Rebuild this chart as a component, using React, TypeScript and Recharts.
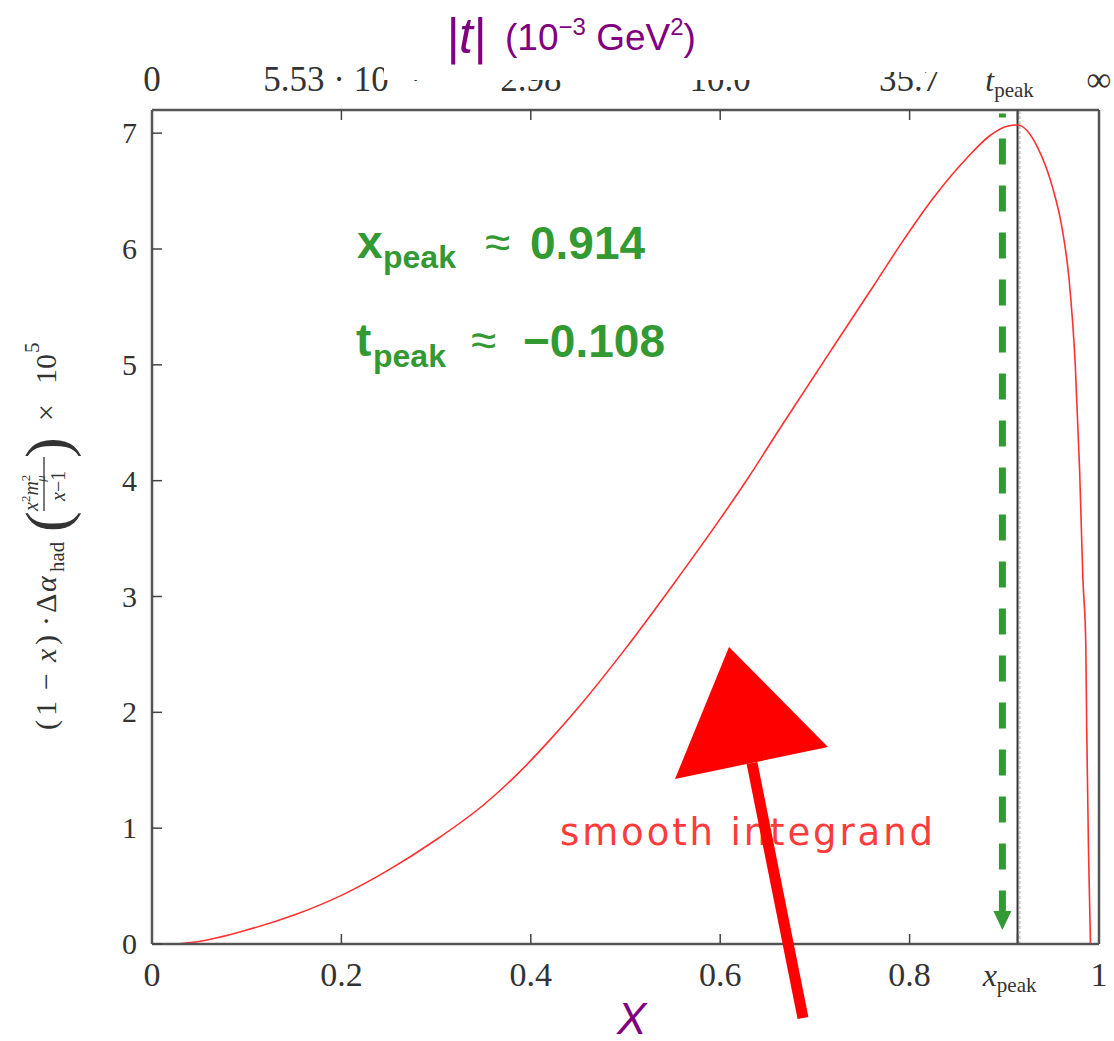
import React from "react";
import {
  LineChart,
  Line,
  XAxis,
  YAxis,
  ReferenceLine,
  ReferenceDot,
} from "recharts";

// integrand (x, value x 10^5)
const xValues = [
  0.024, 0.048, 0.1, 0.15, 0.2, 0.25, 0.3, 0.35, 0.385, 0.42, 0.45, 0.5, 0.55,
  0.6, 0.63, 0.663, 0.719, 0.761, 0.793, 0.825, 0.861, 0.885, 0.903, 0.914,
  0.935, 0.951, 0.961, 0.9685, 0.975, 0.9795, 0.983, 0.986, 0.987, 0.989,
  0.991,
];
const yValues = [
  0, 0.02, 0.12, 0.25, 0.42, 0.64, 0.9, 1.2, 1.46, 1.76, 2.04, 2.55, 3.1, 3.67,
  4.03, 4.45, 5.15, 5.67, 6.07, 6.44, 6.79, 6.98, 7.06, 7.07, 6.88, 6.53, 6.18,
  5.73, 4.99, 4.1, 3.15, 2.61, 1.86, 0.77, 0,
];

const xTicks = [0, 0.2, 0.4, 0.6, 0.8, 0.914, 1];
const xTickLabels = ["0", "0.2", "0.4", "0.6", "0.8", "x_peak", "1"];
const tTickLabels = ["0", "5.53 · 10⁻⁴", "2.98", "10.0", "35.7", "t_peak", "∞"];
const yTicks = [0, 1, 2, 3, 4, 5, 6, 7];

const X_PEAK = 0.914;
const ARROW_X = 0.898;

const data = xValues.map((x, i) => ({ x, y: yValues[i] }));

const SERIF = "'Liberation Serif', 'DejaVu Serif', serif";
const SANS = "'Liberation Sans', Arial, sans-serif";
const GREEN = "#339933";
const PURPLE = "#800080";
const AXIS = "#555";

function BottomTick(props: any) {
  const { x, y, payload } = props;
  const label = xTickLabels[xTicks.indexOf(payload.value)];
  if (label === "x_peak") {
    return (
      <text x={x - 8} y={y + 26} textAnchor="middle" fontFamily={SERIF} fontSize={32} fill="#333">
        <tspan fontStyle="italic">x</tspan>
        <tspan fontSize={21} dy={6}>peak</tspan>
      </text>
    );
  }
  return (
    <text x={x} y={y + 26} textAnchor="middle" fontFamily={SERIF} fontSize={34} fill="#333">
      {label}
    </text>
  );
}

function TopTick(props: any) {
  const { x, y, payload } = props;
  const label = tTickLabels[xTicks.indexOf(payload.value)];
  if (label === "t_peak") {
    return (
      <text x={x - 8} y={y} textAnchor="middle" fontFamily={SERIF} fontSize={32} fill="#333">
        <tspan fontStyle="italic">t</tspan>
        <tspan fontSize={21} dy={6}>peak</tspan>
      </text>
    );
  }
  return (
    <text x={x} y={y} textAnchor="middle" fontFamily={SERIF} fontSize={35} fill="#333">
      {label}
    </text>
  );
}

function LeftTick(props: any) {
  const { x, y, payload } = props;
  return (
    <text x={x} y={y + 10} textAnchor="end" fontFamily={SERIF} fontSize={30} fill="#333">
      {payload.value}
    </text>
  );
}

function ArrowHead(props: any) {
  const { cx, cy } = props;
  return (
    <path d={`M${cx - 9},${cy - 19} L${cx + 9},${cy - 19} L${cx},${cy} Z`} fill={GREEN} />
  );
}

function Annotations() {
  return (
    <svg
      width={1114}
      height={1041}
      style={{ position: "absolute", left: 0, top: 0, pointerEvents: "none" }}
    >
      {/* white patch under the |t| title */}
      <rect x={384} y={0} width={476} height={80} fill="#fff" />
      <rect x={860} y={0} width={80} height={72} fill="#fff" />
      <text x={446} y={53} fontFamily={SANS} fontSize={50} fontStyle="italic" fill={PURPLE}>
        |t|
      </text>
      <text x={505} y={50} fontFamily={SANS} fontSize={37} fill={PURPLE}>
        (10<tspan dy={-15} fontSize={24}>−3</tspan>
        <tspan dy={15}> GeV</tspan>
        <tspan dy={-15} fontSize={24}>2</tspan>
        <tspan dy={15}>)</tspan>
      </text>

      {/* y axis title, laid along the axis */}
      <g transform="translate(56,730) rotate(-90)" fontFamily={SERIF} fill="#333" fontSize={30}>
        <text x={0} y={0}>(</text>
        <text x={14} y={0}>1</text>
        <text x={40} y={0}>−</text>
        <text x={68} y={0} fontStyle="italic">x</text>
        <text x={85} y={0}>)</text>
        <text x={104} y={0}>·</text>
        <text x={117} y={0}>Δ</text>
        <text x={138} y={0} fontStyle="italic">α</text>
        <text x={158} y={8} fontSize={21}>had</text>
        <text x={198} y={12} fontSize={62}>(</text>
        <text x={219} y={-18} fontSize={20} fontStyle="italic">
          x<tspan dy={-8} fontSize={13} fontStyle="normal">2</tspan>
          <tspan dy={8}>m</tspan>
          <tspan dy={-8} fontSize={13} fontStyle="normal">2</tspan>
          <tspan dx={-7} dy={15} fontSize={13}>μ</tspan>
        </text>
        <line x1={219} x2={273} y1={-12} y2={-12} stroke="#333" strokeWidth={1.3} />
        <text x={229} y={9} fontSize={20}>
          <tspan fontStyle="italic">x</tspan>−1
        </text>
        <text x={272} y={12} fontSize={62}>)</text>
        <text x={309} y={0}>×</text>
        <text x={346} y={0}>10</text>
        <text x={377} y={-17} fontSize={21}>5</text>
      </g>

      {/* peak values */}
      <g fill={GREEN} fontFamily={SANS}>
        <text x={357} y={258} fontSize={46} fontWeight="bold">x</text>
        <text x={383} y={268} fontSize={32} fontWeight="bold">peak</text>
        <text x={485} y={258} fontSize={46}>≈</text>
        <text x={530} y={259} fontSize={46} fontWeight="bold">0.914</text>
        <text x={356} y={356} fontSize={46} fontWeight="bold">t</text>
        <text x={373} y={367} fontSize={32} fontWeight="bold">peak</text>
        <text x={471} y={356} fontSize={46}>≈</text>
        <text x={523} y={357} fontSize={46} fontWeight="bold">−0.108</text>
      </g>

      <text
        x={560}
        y={845}
        fontFamily="'DejaVu Sans', sans-serif"
        fontSize={37}
        fill="#ff3b3b"
        textLength={373}
        lengthAdjust="spacing"
      >
        smooth integrand
      </text>

      {/* big red arrow */}
      <line x1={752} y1={763} x2={803} y2={1018} stroke="#ff0000" strokeWidth={11} />
      <polygon points="729,647 828,747 675,779" fill="#ff0000" />

      <text x={617} y={1034} fontFamily={SANS} fontSize={44} fontStyle="italic" fill={PURPLE}>
        X
      </text>
    </svg>
  );
}

export default function App() {
  return (
    <div
      style={{
        position: "absolute",
        left: 0,
        top: 0,
        width: 1114,
        height: 1041,
        background: "#fff",
      }}
    >
      <LineChart
        width={1114}
        height={1041}
        data={data}
        margin={{ top: 60, right: 14, bottom: 47, left: 92 }}
      >
        <XAxis
          xAxisId="bottom"
          dataKey="x"
          type="number"
          domain={[0, 1]}
          ticks={xTicks}
          allowDataOverflow
          orientation="bottom"
          height={50}
          axisLine={{ stroke: AXIS, strokeWidth: 2.5 }}
          tickLine={{ stroke: "#444", strokeWidth: 1.5 }}
          tickSize={-10}
          tickMargin={26}
          tick={BottomTick}
          interval={0}
        />
        <XAxis
          xAxisId="top"
          dataKey="x"
          type="number"
          domain={[0, 1]}
          ticks={xTicks}
          allowDataOverflow
          orientation="top"
          height={50}
          axisLine={{ stroke: AXIS, strokeWidth: 2.5 }}
          tickLine={{ stroke: "#444", strokeWidth: 1.5 }}
          tickSize={-10}
          tickMargin={29}
          tick={TopTick}
          interval={0}
        />
        <YAxis
          yAxisId="left"
          type="number"
          domain={[0, 7.2]}
          ticks={yTicks}
          allowDataOverflow
          width={60}
          axisLine={{ stroke: AXIS, strokeWidth: 2.5 }}
          tickLine={{ stroke: "#444", strokeWidth: 1.5 }}
          tickSize={-10}
          tickMargin={25}
          tick={LeftTick}
          interval={0}
        />
        <YAxis
          yAxisId="right"
          orientation="right"
          type="number"
          domain={[0, 7.2]}
          ticks={yTicks}
          allowDataOverflow
          width={1}
          axisLine={{ stroke: AXIS, strokeWidth: 2.5 }}
          tickLine={{ stroke: "#444", strokeWidth: 1.5 }}
          tickSize={-10}
          tick={false}
          interval={0}
        />
        <ReferenceLine
          xAxisId="bottom"
          yAxisId="left"
          x={X_PEAK}
          stroke="#333"
          strokeWidth={2}
        />
        <ReferenceLine
          xAxisId="bottom"
          yAxisId="left"
          x={X_PEAK + 0.0025}
          stroke="#aaa"
          strokeWidth={1}
          strokeDasharray="3 2"
        />
        <ReferenceLine
          xAxisId="bottom"
          yAxisId="left"
          segment={[
            { x: ARROW_X, y: 7.17 },
            { x: ARROW_X, y: 0.27 },
          ]}
          stroke={GREEN}
          strokeWidth={7}
          strokeDasharray="26 21"
          strokeDashoffset={22}
        />
        <ReferenceDot
          xAxisId="bottom"
          yAxisId="left"
          x={ARROW_X}
          y={0.12}
          shape={ArrowHead}
        />
        {/* same series bound to the top/right frame axes so they get a scale; drawn invisibly */}
        <Line
          xAxisId="top"
          yAxisId="right"
          dataKey="y"
          type="monotone"
          stroke="none"
          dot={false}
          activeDot={false}
          isAnimationActive={false}
        />
        <Line
          xAxisId="bottom"
          yAxisId="left"
          dataKey="y"
          type="monotone"
          stroke="#ff3030"
          strokeWidth={1.6}
          dot={false}
          isAnimationActive={false}
        />
      </LineChart>
      <Annotations />
    </div>
  );
}
